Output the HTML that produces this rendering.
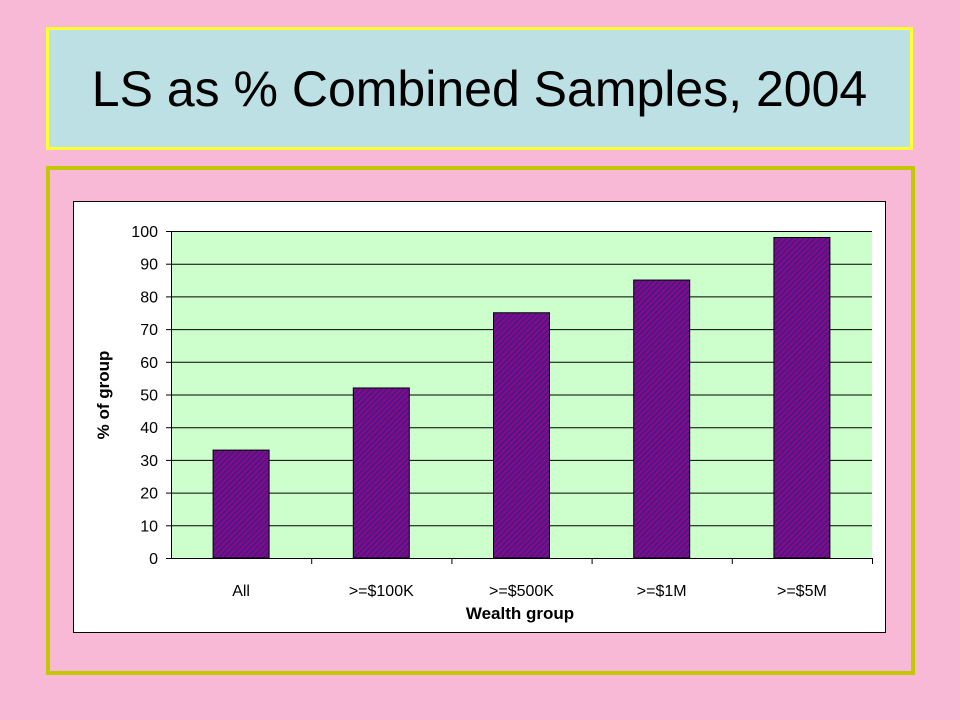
<!DOCTYPE html>
<html><head><meta charset="utf-8"><style>
body{margin:0;width:960px;height:720px;background:#f7b9d5;position:relative;overflow:hidden;font-family:"Liberation Sans",Arial,sans-serif}
#title{position:absolute;left:46px;top:27px;width:861px;height:117px;border:3px solid #ffff33;background:#bce0e3;display:flex;align-items:center;justify-content:center;font-size:50px;color:#000}
#frame{position:absolute;left:46px;top:166px;width:861px;height:501px;border:4px solid #c3c800}
svg{position:absolute;left:0;top:0}
</style></head><body>
<div id="title">LS as % Combined Samples, 2004</div>
<div id="frame"></div>
<svg id="chart" width="960" height="720">
<defs><pattern id="hatch" width="4" height="4" patternUnits="userSpaceOnUse" patternTransform="rotate(45)">
<rect width="4" height="4" fill="#8a0a7a"/><rect width="1.6" height="4" fill="#3a1a9a"/></pattern></defs>
<rect x="73.5" y="201.5" width="812" height="431" fill="#fff" stroke="#000"/>
<rect x="171" y="231" width="701" height="327" fill="#ccffcc"/>
<g id="grid"></g><g id="bars"></g><g id="axes"></g>
<text x="520" y="619" font-size="17" font-weight="bold" text-anchor="middle">Wealth group</text>
<text transform="translate(109,395) rotate(-90)" font-size="17" font-weight="bold" text-anchor="middle">% of group</text>
</svg>
<script>
const categories=["All",">=$100K",">=$500K",">=$1M",">=$5M"];
const values=[33,52,75,85,98];
const yTicks=[0,10,20,30,40,50,60,70,80,90,100];
const NS="http://www.w3.org/2000/svg";
const x0=171,x1=872,yTop=231,yBot=558;
const y=v=>yBot-(v/100)*(yBot-yTop);
const bw=(x1-x0)/categories.length;
function mk(t,a,p){const e=document.createElementNS(NS,t);for(const k in a)e.setAttribute(k,a[k]);p.appendChild(e);return e;}
const grid=document.getElementById('grid'),bars=document.getElementById('bars'),axes=document.getElementById('axes');
yTicks.forEach(v=>{
 if(v>0){const l=mk('line',{x1:x0,x2:x1,y1:y(v)+0.5,y2:y(v)+0.5,stroke:'#000'},grid);
 
 }
 mk('line',{x1:x0-5,x2:x0,y1:y(v)+0.5,y2:y(v)+0.5,stroke:'#000'},axes);
 const t=mk('text',{x:x0-13,y:y(v)+6,'font-size':16,'text-anchor':'end'},axes);t.textContent=v;
 
 
});
mk('line',{x1:x0+0.5,x2:x0+0.5,y1:yTop,y2:yBot,stroke:'#000'},axes);
mk('line',{x1:x0,x2:x1,y1:yBot+0.5,y2:yBot+0.5,stroke:'#000'},axes);
categories.forEach((c,i)=>{
 const cx=x0+bw*(i+0.5);
 const r=mk('rect',{x:cx-28,y:y(values[i]),width:56,height:yBot-y(values[i]),fill:'url(#hatch)',stroke:'#000','stroke-width':1},bars);
 
 
 mk('line',{x1:x0+bw*(i+1)+0.5,x2:x0+bw*(i+1)+0.5,y1:yBot,y2:yBot+6,stroke:'#000'},axes);
 const t=mk('text',{x:cx,y:596,'font-size':16,'text-anchor':'middle'},axes);t.textContent=c;
 
 
});
</script>
</body></html>
